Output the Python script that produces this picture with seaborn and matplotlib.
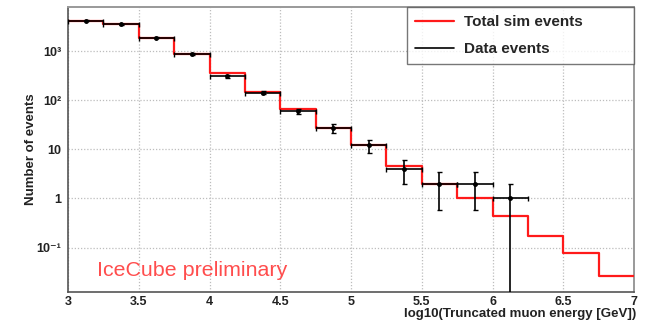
import numpy as np
import matplotlib
matplotlib.use("Agg")
import matplotlib.pyplot as plt
import seaborn as sns
from matplotlib.ticker import FixedLocator, LogLocator, NullFormatter, MultipleLocator
from matplotlib.lines import Line2D

# ---- data ----
bin_edges = [3.0, 3.25, 3.5, 3.75, 4.0, 4.25, 4.5, 4.75, 5.0, 5.25, 5.5, 5.75, 6.0, 6.25, 6.5, 6.75, 7.0]
sim_events = [4200, 3500, 1870, 870, 360, 145, 65, 27, 12.5, 4.6, 2.0, 1.0, 0.45, 0.17, 0.078, 0.026]
data_events = [4150, 3500, 1870, 870, 305, 143, 60, 27, 12, 4, 2, 2, 1]
data_err_hi = [64, 59, 43, 29.5, 17.5, 12, 7.7, 5.2, 3.5, 2.0, 1.41, 1.41, 1.0]
data_err_lo = [64, 59, 43, 29.5, 17.5, 12, 7.7, 5.2, 3.5, 2.0, 1.41, 1.41, 0.999]
ytick_vals = [0.1, 1, 10, 100, 1000]
ytick_labels = ["10⁻¹", "1", "10", "10²", "10³"]
xtick_vals = [3, 3.5, 4, 4.5, 5, 5.5, 6, 6.5, 7]
xtick_labels = ["3", "3.5", "4", "4.5", "5", "5.5", "6", "6.5", "7"]
legend_labels = ["Total sim events", "Data events"]

sns.set_style("white")
plt.rcParams['font.family'] = ['Liberation Sans', 'DejaVu Sans']

fig = plt.figure(figsize=(6.46, 3.22), dpi=100)
ax = fig.add_axes([68/646, 1 - 291.7/322, 566/646, 284.4/322])

edges = np.array(bin_edges)
sim_centers = 0.5 * (edges[:-1] + edges[1:])
n_data = len(data_events)
data_centers = sim_centers[:n_data]
data_halfw = 0.5 * np.diff(edges)[:n_data]

red = "#ff1a1a"
sns.histplot(x=sim_centers, weights=sim_events, bins=bin_edges, element="step",
             fill=False, color=red, linewidth=1.6, ax=ax, zorder=3)

ax.set_yscale("log")

ax.errorbar(data_centers, data_events, xerr=data_halfw,
            yerr=[data_err_lo, data_err_hi], fmt="o", color="black", ms=2.5,
            elinewidth=1.2, capsize=1.8, capthick=1.0, zorder=4)

ax.set_xlim(3, 7)
ax.set_ylim(0.01265, 7800)

# ticks
ax.xaxis.set_major_locator(FixedLocator(xtick_vals))
ax.set_xticklabels(xtick_labels)
ax.xaxis.set_minor_locator(MultipleLocator(0.1))
ax.yaxis.set_major_locator(FixedLocator(ytick_vals))
ax.set_yticklabels(ytick_labels)
ax.yaxis.set_minor_locator(LogLocator(base=10, subs=np.arange(2, 10), numticks=20))
ax.yaxis.set_minor_formatter(NullFormatter())

ax.tick_params(axis="both", which="both", direction="in", colors="#555555",
               labelcolor="#222222", labelsize=9)
ax.tick_params(axis="both", which="major", length=9, width=1.0)
ax.tick_params(axis="both", which="minor", length=5, width=0.8)
ax.tick_params(axis="x", which="both", top=False, pad=3)
ax.tick_params(axis="y", which="both", right=False, pad=5)
for lab in ax.get_xticklabels() + ax.get_yticklabels():
    lab.set_fontweight("bold")

ax.grid(True, which="major", color="#bdbdbd", linestyle=(0, (1, 1.5)), linewidth=0.9)
ax.set_axisbelow(True)

for side in ["left", "bottom"]:
    ax.spines[side].set_color("#555555")
    ax.spines[side].set_linewidth(1.2)
for side in ["top", "right"]:
    ax.spines[side].set_color("#999999")
    ax.spines[side].set_linewidth(1.4)

ax.set_xlabel("")
fig.text(636/646, 1 - 317/322, "log10(Truncated muon energy [GeV])", fontsize=9.5,
         fontweight="bold", color="#222222", ha="right", va="baseline")
ax.set_ylabel("Number of events", fontsize=9.5, fontweight="bold", color="#222222")
ax.yaxis.set_label_coords(-0.055, 0.5)

ax.text(0.052, 0.055, "IceCube preliminary", transform=ax.transAxes, color="#ff4d4d",
        fontsize=15.4, ha="left", va="baseline")

handles = [Line2D([], [], color=red, lw=1.6), Line2D([], [], color="black", lw=1.2)]
leg = ax.legend(handles, legend_labels, loc="upper left",
                bbox_to_anchor=(0.599, 0.797, 0.401, 0.203),
                mode="expand", borderaxespad=0, frameon=True, fancybox=False,
                prop={"weight": "bold", "size": 11}, handlelength=2.55,
                handletextpad=0.65, labelspacing=0.85, borderpad=0.5)
leg.get_frame().set_edgecolor("#555555")
leg.get_frame().set_linewidth(1.0)
leg.set_zorder(10)

fig.savefig("out.png", dpi=100)
